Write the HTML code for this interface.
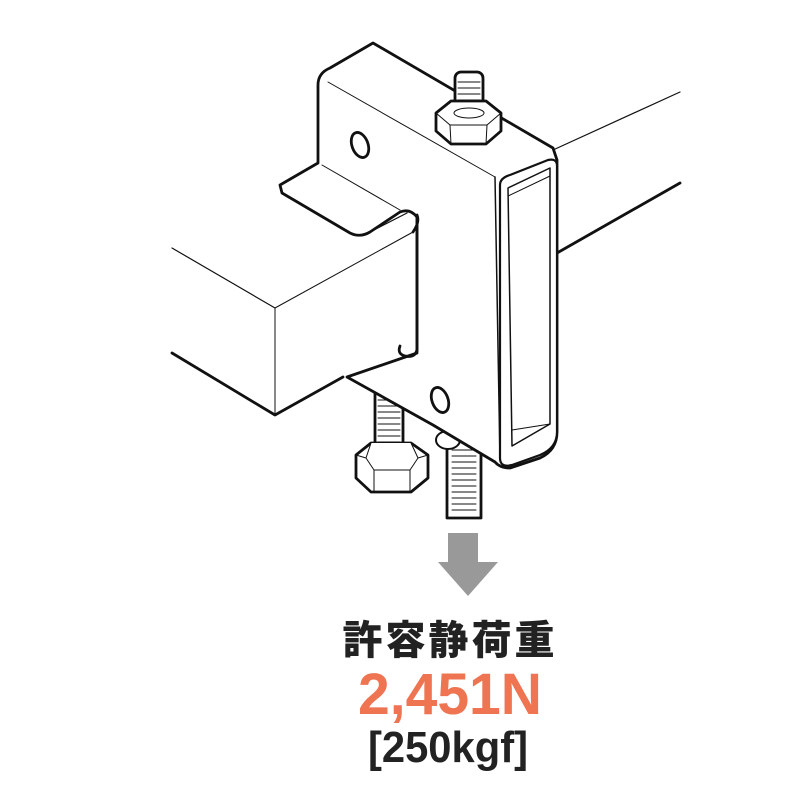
<!DOCTYPE html>
<html><head><meta charset="utf-8"><style>
html,body{margin:0;padding:0;background:#fff;width:800px;height:800px;overflow:hidden}
svg{display:block}
</style></head><body>
<svg width="800" height="800" viewBox="0 0 800 800" xmlns="http://www.w3.org/2000/svg">
<g fill="#fff" stroke="#111" stroke-linejoin="round" stroke-linecap="round">
<line x1="553" y1="150" x2="680" y2="92" stroke-width="1.2"/>
<line x1="557" y1="253" x2="680" y2="183" stroke-width="2.8"/>
<rect x="447" y="440" width="34" height="78" stroke-width="2.8"/>
<path d="M452 450h24M452 456h24M452 462h24M452 468h24M452 474h24M452 480h24M452 486h24M452 492h24M452 498h24M452 504h24M452 510h24" stroke-width="1"/>
<ellipse cx="448" cy="440" rx="12" ry="9" stroke-width="2"/>
<rect x="375" y="390" width="28" height="70" stroke-width="2.8"/>
<path d="M378 400h22M378 406h22M378 412h22M378 418h22M378 424h22M378 430h22M378 436h22M378 442h22M378 448h22" stroke-width="1"/>
<path d="M356 455 L371 443 L411 443 L428 455 L428 478 L411 492 L371 492 L356 478 Z" stroke-width="2.8"/>
<path d="M371 443 L366 458 L374 470 L410 470 L418 458 L411 443 M356 455 L366 458 M428 455 L418 458 M374 470 L374 492 M410 470 L410 492" stroke-width="1"/>
<path d="M318 85 Q318 73 330 68 L373 43 L553 148 L557 160 L557 432 Q557 450 540 458 L510 468 Q500 468 495 462 L433 425 L347 377 L417 353 L417 217 Q410 208 400 212 L370 232 Q360 238 350 233 L282 193 L280 185 L318 163 Z" stroke-width="2.8"/>
<path d="M328 82 L495 177" stroke-width="1"/>
<path d="M322 165 L400 210" stroke-width="1"/>
<path d="M282 193 L350 233 Q360 238 370 232 L407 213" fill="none" stroke-width="1.2"/>
<path d="M500 185 Q500 178 510 175 L548 160 Q557 158 557 166 L557 432 Q557 448 540 455 L512 465 Q500 468 500 458 Z" stroke-width="2.2"/>
<path d="M508 188 L550 168 L550 424 L512 446 Z" stroke-width="1.5"/>
<path d="M508 196 L550 176" stroke-width="1"/>
<path d="M512 430 L550 424" stroke-width="1"/>
<line x1="495" y1="177" x2="500" y2="460" stroke-width="1.5"/>
<ellipse cx="360" cy="145" rx="8" ry="13" transform="rotate(-20 360 145)" stroke-width="2.8"/>
<ellipse cx="440" cy="400" rx="8" ry="13" transform="rotate(-20 440 400)" stroke-width="2.8"/>
<rect x="455" y="72" width="28" height="42" rx="6" stroke-width="2.8"/>
<path d="M458 82h22M458 88h22M458 94h22M458 100h22M458 106h22" stroke-width="1"/>
<path d="M436 113 L451 101 L486 101 L501 113 L501 131 L486 144 L451 144 L436 131 Z" stroke-width="2.8"/>
<path d="M436 113 L450 125 L487 125 L501 113 M450 125 L451 144 M487 125 L486 144" stroke-width="1" fill="none"/>
<ellipse cx="469" cy="113" rx="15" ry="5" stroke-width="1" fill="none"/>
<path d="M172 248 L275 308 L413 232 L413 345 L343 377 L275 415 L172 353" fill="#fff" stroke="none"/>
<line x1="172" y1="248" x2="275" y2="308" stroke-width="1.2"/>
<path d="M275 308 L275 415 M275 308 L413 232" stroke-width="1" fill="none"/>
<path d="M172 353 L275 415 L343 377" stroke-width="2.8" fill="none"/>
<path d="M413 232 Q420 222 417 215 M417 217 L417 350 Q415 358 405 356 Q397 354 400 346" stroke-width="2.8" fill="none"/>
</g>
<path d="M448 533 H478 V562 H498 L468 596 L438 562 H448 Z" fill="#999"/>
<g font-family="Liberation Sans, 'Noto Sans CJK JP', sans-serif" font-weight="bold" text-anchor="middle">
<text x="450" y="654" font-size="40" fill="#222" font-family="'Noto Sans CJK JP', sans-serif" font-weight="900" letter-spacing="3">許容静荷重</text>
<text x="450" y="714" font-size="58" fill="#ee7452" textLength="184" lengthAdjust="spacingAndGlyphs">2,451N</text>
<text x="448" y="762" font-size="44" fill="#222" textLength="160" lengthAdjust="spacingAndGlyphs">[250kgf]</text>
</g>
</svg>
</body></html>
